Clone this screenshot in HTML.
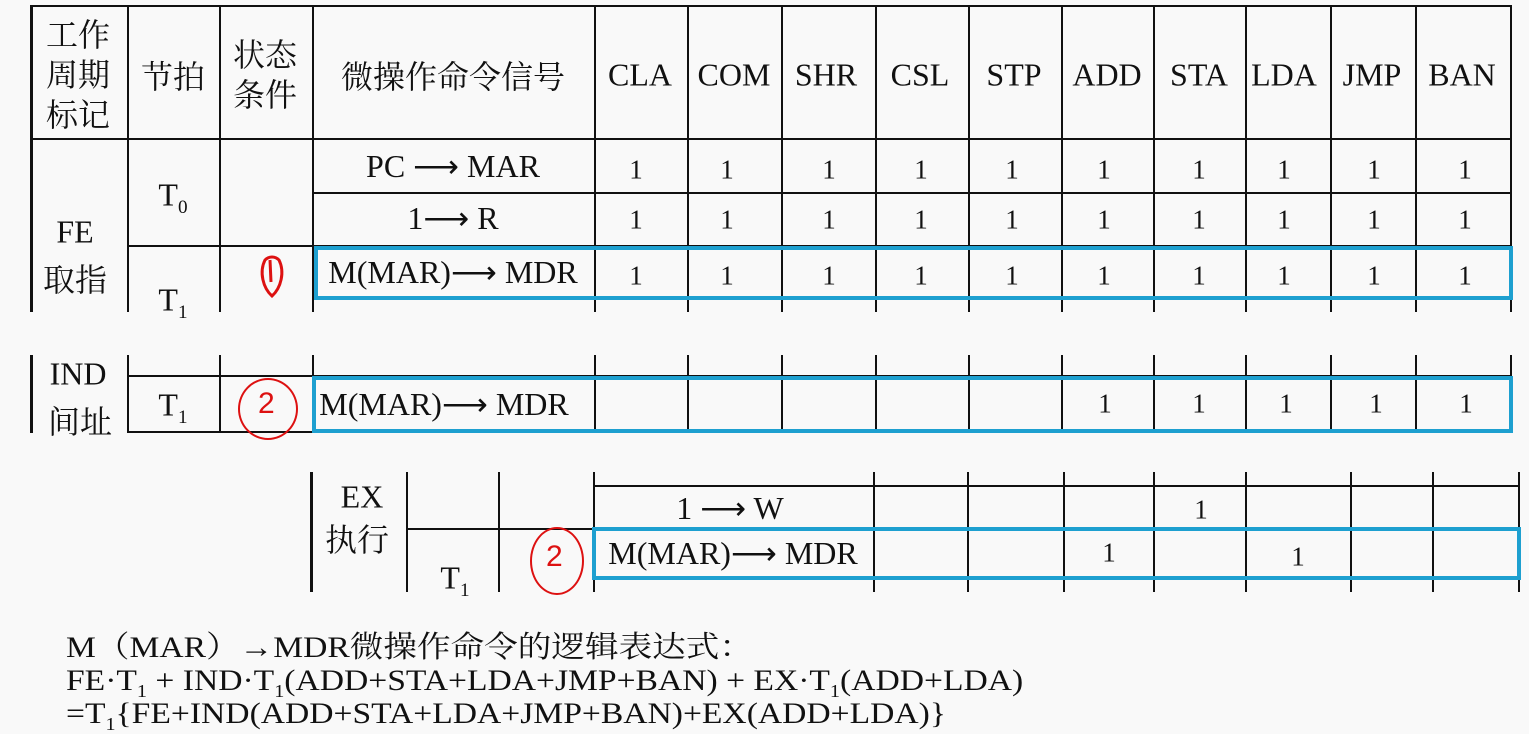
<!DOCTYPE html>
<html><head><meta charset="utf-8"><style>
body{margin:0;width:1529px;height:731px;background:#f9f9f9;position:relative;overflow:hidden;font-family:"Liberation Serif","Noto Serif CJK SC",serif;color:#111}
.v{position:absolute;background:#111;width:1.5px}
.h{position:absolute;background:#111;height:1.5px}
.t{position:absolute;font-size:32px;white-space:nowrap;transform:translate(-50%,-50%)}
.b{position:absolute;border:4px solid #1ea0d0;box-sizing:border-box}
.r{position:absolute;color:#d11;font-family:"Liberation Sans",sans-serif;font-size:30px}
sub{font-size:60%;line-height:0}
.n{font-size:27px}
</style></head><body>
<div class="h" style="left:30px;top:5px;width:1480px;height:2px"></div>
<div class="h" style="left:30px;top:138px;width:1480px"></div>
<div class="h" style="left:312px;top:192px;width:1198px"></div>
<div class="h" style="left:127px;top:245px;width:1383px"></div>
<div class="v" style="left:30px;top:5px;height:307px;width:2.5px"></div>
<div class="v" style="left:127px;top:5px;height:307px"></div>
<div class="v" style="left:219px;top:5px;height:307px"></div>
<div class="v" style="left:312px;top:5px;height:307px"></div>
<div class="v" style="left:594px;top:5px;height:307px"></div>
<div class="v" style="left:687px;top:5px;height:307px"></div>
<div class="v" style="left:781px;top:5px;height:307px"></div>
<div class="v" style="left:875px;top:5px;height:307px"></div>
<div class="v" style="left:968px;top:5px;height:307px"></div>
<div class="v" style="left:1061px;top:5px;height:307px"></div>
<div class="v" style="left:1153px;top:5px;height:307px"></div>
<div class="v" style="left:1245px;top:5px;height:307px"></div>
<div class="v" style="left:1330px;top:5px;height:307px"></div>
<div class="v" style="left:1415px;top:5px;height:307px"></div>
<div class="v" style="left:1510px;top:5px;height:307px"></div>
<div class="t" style="left:78px;top:75px;line-height:40px;font-size:32px;text-align:center">工作<br>周期<br>标记</div>
<div class="t" style="left:173px;top:75px;font-size:32px">节拍</div>
<div class="t" style="left:265px;top:75px;line-height:40px;font-size:32px">状态<br>条件</div>
<div class="t" style="left:453px;top:75px;font-size:32px">微操作命令信号</div>
<div class="t" style="left:640px;top:75px">CLA</div>
<div class="t" style="left:734px;top:75px">COM</div>
<div class="t" style="left:826px;top:75px">SHR</div>
<div class="t" style="left:920px;top:75px">CSL</div>
<div class="t" style="left:1014px;top:75px">STP</div>
<div class="t" style="left:1107px;top:75px">ADD</div>
<div class="t" style="left:1199px;top:75px">STA</div>
<div class="t" style="left:1284px;top:75px">LDA</div>
<div class="t" style="left:1372px;top:75px">JMP</div>
<div class="t" style="left:1462px;top:75px">BAN</div>
<div class="t" style="left:75px;top:232px">FE</div>
<div class="t" style="left:75px;top:278px">取指</div>
<div class="t" style="left:173px;top:195px">T<sub>0</sub></div>
<div class="t" style="left:173px;top:300px">T<sub>1</sub></div>
<div class="t" style="left:453px;top:166px">PC ⟶ MAR</div>
<div class="t" style="left:453px;top:218px">1⟶ R</div>
<div class="t" style="left:453px;top:272px">M(MAR)⟶ MDR</div>
<svg style="position:absolute;left:255px;top:252px" width="40" height="50"><path d="M10 8 C4 20 8 36 17 44 C26 36 30 20 24 8 C20 4 14 4 10 8 Z M15 8 L16 30" fill="none" stroke="#d11" stroke-width="3"/></svg>
<div class="b" style="left:314px;top:246px;width:1199px;height:54px"></div>
<div id="ones"></div>
<div class="v" style="left:30px;top:355px;height:78px;width:2.5px"></div>
<div class="v" style="left:127px;top:355px;height:78px"></div>
<div class="v" style="left:219px;top:355px;height:78px"></div>
<div class="v" style="left:312px;top:355px;height:78px"></div>
<div class="v" style="left:594px;top:355px;height:78px"></div>
<div class="v" style="left:687px;top:355px;height:78px"></div>
<div class="v" style="left:781px;top:355px;height:78px"></div>
<div class="v" style="left:875px;top:355px;height:78px"></div>
<div class="v" style="left:968px;top:355px;height:78px"></div>
<div class="v" style="left:1061px;top:355px;height:78px"></div>
<div class="v" style="left:1153px;top:355px;height:78px"></div>
<div class="v" style="left:1245px;top:355px;height:78px"></div>
<div class="v" style="left:1330px;top:355px;height:78px"></div>
<div class="v" style="left:1415px;top:355px;height:78px"></div>
<div class="v" style="left:1510px;top:355px;height:78px"></div>
<div class="h" style="left:127px;top:375px;width:1383px"></div>
<div class="h" style="left:127px;top:431px;width:1383px"></div>
<div class="t" style="left:78px;top:374px">IND</div>
<div class="t" style="left:80px;top:420px">间址</div>
<div class="t" style="left:173px;top:405px">T<sub>1</sub></div>
<div class="t" style="left:444px;top:404px">M(MAR)⟶ MDR</div>
<div style="position:absolute;left:238px;top:378px;width:60px;height:62px;border:2px solid #d11;border-radius:50%;box-sizing:border-box"></div>
<div class="r" style="left:258px;top:387px">2</div>
<div class="b" style="left:312px;top:376px;width:1201px;height:57px"></div>
<div class="v" style="left:310px;top:472px;height:120px;width:2.5px"></div>
<div class="v" style="left:406px;top:472px;height:120px"></div>
<div class="v" style="left:498px;top:472px;height:120px"></div>
<div class="v" style="left:593px;top:472px;height:120px"></div>
<div class="v" style="left:873px;top:472px;height:120px"></div>
<div class="v" style="left:967px;top:472px;height:120px"></div>
<div class="v" style="left:1063px;top:472px;height:120px"></div>
<div class="v" style="left:1153px;top:472px;height:120px"></div>
<div class="v" style="left:1245px;top:472px;height:120px"></div>
<div class="v" style="left:1350px;top:472px;height:120px"></div>
<div class="v" style="left:1432px;top:472px;height:120px"></div>
<div class="v" style="left:1518px;top:472px;height:120px"></div>
<div class="h" style="left:593px;top:485px;width:926px"></div>
<div class="h" style="left:406px;top:528px;width:188px"></div>
<div class="t" style="left:362px;top:497px">EX</div>
<div class="t" style="left:357px;top:538px">执行</div>
<div class="t" style="left:455px;top:578px">T<sub>1</sub></div>
<div class="t" style="left:730px;top:508px">1 ⟶ W</div>
<div class="t n" style="left:1201px;top:510px">1</div>
<div class="t" style="left:733px;top:553px">M(MAR)⟶ MDR</div>
<div class="t n" style="left:1109px;top:553px">1</div>
<div class="t n" style="left:1298px;top:557px">1</div>
<div style="position:absolute;left:530px;top:527px;width:54px;height:68px;border:2px solid #d11;border-radius:50%;box-sizing:border-box"></div>
<div class="r" style="left:546px;top:540px">2</div>
<div class="b" style="left:592px;top:527px;width:929px;height:53px"></div>
<div style="position:absolute;left:66px;top:631px;font-size:30px;line-height:33px;white-space:nowrap;transform:scaleX(1.12);transform-origin:0 0">M（MAR）→MDR微操作命令的逻辑表达式：<br>FE·T<sub>1</sub> + IND·T<sub>1</sub>(ADD+STA+LDA+JMP+BAN) + EX·T<sub>1</sub>(ADD+LDA)<br>=T<sub>1</sub>{FE+IND(ADD+STA+LDA+JMP+BAN)+EX(ADD+LDA)}</div>
<script>
var xs=[636,727,829,921,1012,1104,1199,1284,1374,1465],ys=[170,220,276],h='';
ys.forEach(function(y){xs.forEach(function(x){h+='<div class="t n" style="left:'+x+'px;top:'+y+'px">1</div>';});});
[1105,1199,1286,1376,1466].forEach(function(x){h+='<div class="t n" style="left:'+x+'px;top:404px">1</div>';});
document.getElementById('ones').innerHTML=h;
</script>
</body></html>
